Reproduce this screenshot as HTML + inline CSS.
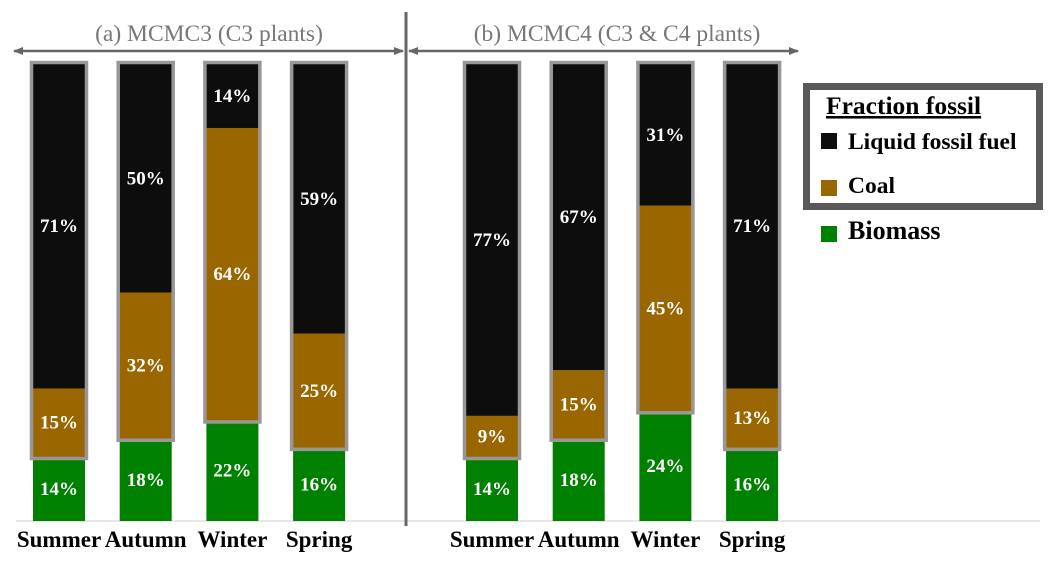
<!DOCTYPE html>
<html><head><meta charset="utf-8"><style>
body{margin:0;background:#fff;}
svg{display:block;font-family:"Liberation Serif",serif;}
</style></head><body>
<svg id="chart" width="1055" height="563" viewBox="0 0 1055 563">
<defs>
<marker id="ah" markerWidth="10" markerHeight="8" refX="9" refY="4" orient="auto-start-reverse" markerUnits="userSpaceOnUse"><path d="M0,0 L10,4 L0,8 Z" fill="#666"/></marker>
</defs>
<line x1="16" y1="521" x2="1040" y2="521" stroke="#ddd" stroke-width="1.5"/>
<line x1="406" y1="12" x2="406" y2="526" stroke="#666" stroke-width="3"/>
<line x1="14" y1="51" x2="403" y2="51" stroke="#666" stroke-width="2.5" marker-start="url(#ah)" marker-end="url(#ah)"/>
<line x1="409" y1="51" x2="798" y2="51" stroke="#666" stroke-width="2.5" marker-start="url(#ah)" marker-end="url(#ah)"/>
<text x="209" y="41" text-anchor="middle" font-size="23.5" fill="#777">(a) MCMC3 (C3 plants)</text>
<text x="617" y="41" text-anchor="middle" font-size="23.5" fill="#777">(b) MCMC4 (C3 &amp; C4 plants)</text>
<g id="bars"></g>
<g>
<rect x="806.5" y="86.5" width="233" height="120" fill="#fff" stroke="#595959" stroke-width="7"/>
<text x="826" y="114" font-size="25.5" font-weight="bold" text-decoration="underline">Fraction fossil</text>
<rect x="821" y="133" width="16" height="16" fill="#0d0d0d"/>
<text x="848" y="149" font-size="23.5" font-weight="bold">Liquid fossil fuel</text>
<rect x="821" y="180" width="16" height="16" fill="#996600"/>
<text x="848" y="193" font-size="23.5" font-weight="bold">Coal</text>
<rect x="821" y="226" width="16" height="16" fill="#008000"/>
<text x="848" y="239" font-size="26" font-weight="bold">Biomass</text>
</g>
</svg>
<script>
const categories = ["Summer","Autumn","Winter","Spring"];
const liquidA = [71,50,14,59];
const coalA = [15,32,64,25];
const biomassA = [14,18,22,16];
const liquidB = [77,67,31,71];
const coalB = [9,15,45,13];
const biomassB = [14,18,24,16];
const NS="http://www.w3.org/2000/svg";
const g=document.getElementById('bars');
const yBase=521, yTop=64;
function y(v){return yBase-(v/100)*(yBase-yTop);}
function xA(i){return 59+i*86.7;}
function xB(i){return 492+i*86.7;}
function mk(tag,attrs){const e=document.createElementNS(NS,tag);for(const k in attrs)e.setAttribute(k,attrs[k]);g.appendChild(e);return e;}
function label(cx,y0,y1,v,name){
  const t=mk('text',{x:cx,y:(y0+y1)/2+6,'text-anchor':'middle','font-size':19,'font-weight':'bold',fill:'#fff'});
  t.textContent=v+'%';
  
  
}
function panel(xf,liq,coal,bio,p){
  categories.forEach((c,i)=>{
    const cx=xf(i), w=52, x0=cx-w/2;
    const yb=y(bio[i]), yc=y(bio[i]+coal[i]), yl=y(bio[i]+coal[i]+liq[i]);
    let r=mk('rect',{x:x0,y:yb,width:w,height:yBase-yb,fill:'#008000'});
    
    
    r=mk('rect',{x:x0,y:yc,width:w,height:yb-yc,fill:'#996600'});
    
    
    r=mk('rect',{x:x0,y:yl,width:w,height:yc-yl,fill:'#0d0d0d'});
    
    
    r=mk('rect',{x:x0-1.5,y:yl-1.5,width:w+3,height:yb-yl+3,fill:'none',stroke:'#9a9696','stroke-width':3.5});
    
    
    label(cx,yb,yBase,bio[i],'label-biomass-'+p+'-'+c.toLowerCase());
    label(cx,yc,yb,coal[i],'label-coal-'+p+'-'+c.toLowerCase());
    label(cx,yl,yc,liq[i],'label-liquid-'+p+'-'+c.toLowerCase());
    const t=mk('text',{x:cx,y:547,'text-anchor':'middle','font-size':23,'font-weight':'bold',fill:'#000'});
    t.textContent=c;
    
    
  });
}
panel(xA,liquidA,coalA,biomassA,'a');
panel(xB,liquidB,coalB,biomassB,'b');
</script>
</body></html>
